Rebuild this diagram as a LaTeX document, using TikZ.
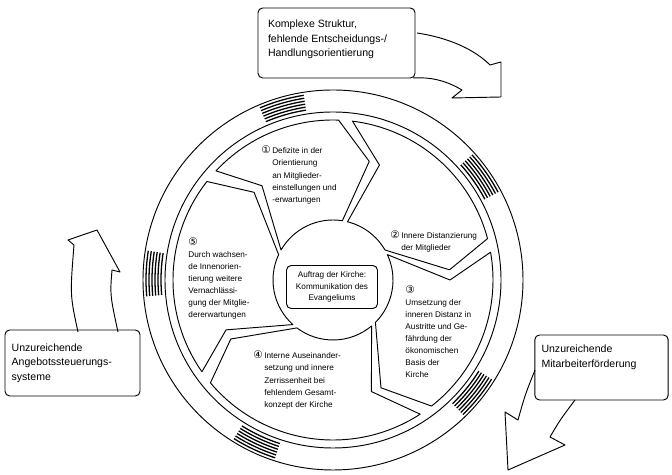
\documentclass[tikz,border=0pt]{standalone}
\usepackage{fontspec}
\setmainfont{Liberation Sans}
\newfontfamily\numfont{DejaVu Sans}
\newcommand{\nr}[1]{{\numfont\fontsize{9}{10}\selectfont #1}}
\begin{document}
\begin{tikzpicture}[x=0.3mm,y=0.3mm,line width=0.8pt,line join=round,
  box/.style={draw,rounded corners=4pt,inner sep=0pt},
  btext/.style={align=left,font=\fontsize{9}{12.5}\selectfont,inner sep=0pt},
  ctext/.style={align=left,font=\fontsize{7}{10.3}\selectfont,inner sep=0pt}]
\useasboundingbox (0,0) rectangle (672,475);

% outer boxes
\node[box,minimum width=47.1mm,minimum height=21mm] (struktur) at (336.5,432) {};
\node[btext,anchor=north west] (strukturtxt) at ([shift={(3mm,-3.6mm)}]struktur.north west)
  {Komplexe Struktur,\\fehlende Entscheidungs-/\\Handlungsorientierung};
\node[box,minimum width=40.5mm,minimum height=19.8mm] (angebot) at (72.5,112) {};
\node[btext,anchor=west] (angebottxt) at ([xshift=2mm]angebot.west)
  {Unzureichende\\Angebotssteuerungs-\\systeme};
\node[box,minimum width=40mm,minimum height=19.5mm] (mitarb) at (601.5,107.5) {};
\node[btext,anchor=north west] (mitarbtxt) at ([shift={(2mm,-3mm)}]mitarb.north west)
  {Unzureichende\\Mitarbeiterförderung};

% block arrows from the boxes
\draw (417,442) .. controls (450,437) and (475,425) .. (490,410) -- (501,413)
  -- (501,378) -- (452,377) -- (462,385) .. controls (445,395) and (430,398) .. (413,397);
\draw (78,143) .. controls (70,180) .. (74,230) -- (68,235) -- (97,245) -- (120,203)
  -- (112,205) .. controls (110,180) .. (118,143);
\draw (535,105) .. controls (525,80) .. (518,55) -- (505,63) -- (508,5) -- (565,30)
  -- (550,38) .. controls (560,55) .. (575,75);

% wheel
\begin{scope}[shift={(333,195)}]
\draw (0,0) circle (190);
\draw (0,0) circle (168);
% tail: outer/apex/apex radius/inner -- head: outer/apex/apex radius/inner
\foreach \to/\ta/\tr/\ti/\ho/\ha/\hr/\hi in {137/127/118/150/88/73/124/81,
    83/68/124/76/15/5/117/30, 10/0/117/25/-52/-66/118/-45,
    -57/-71/118/-50/-140/-150/118/-127, -145/-155/118/-132/-218/-228/118/-205}
  \draw (\to:160) arc[start angle=\to,end angle=\ho,radius=160] -- (\ha:\hr)
    -- (\hi:60) arc[start angle=\hi,end angle=\ti,radius=60] -- (\ta:\tr) -- cycle;
\foreach \h in {99,28,-46,-122,171}
  \foreach \r in {172,175,...,187}
    \draw[line width=1.1pt] (\h+14:\r) arc[start angle=\h+14,end angle=\h,radius=\r];
\end{scope}

% centre
\node[box,minimum width=27.3mm,minimum height=12.9mm] (auftrag) at (332,188) {};
\node[font=\fontsize{7}{10}\selectfont,align=center,inner sep=0pt] (auftragtxt) at (auftrag)
  {Auftrag der Kirche:\\Kommunikation des\\Evangeliums};

% texts of the wheel
\node[ctext,anchor=north west] (defizite) at (261,330)
  {\begin{tabular}{@{}l@{\,}l@{}}\nr{①}&Defizite in der\\&Orientierung\\&an Mitglieder-\\&einstellungen und\\&-erwartungen\end{tabular}};
\node[ctext,anchor=north west] (distanz) at (390,245)
  {\begin{tabular}{@{}l@{\,}l@{}}\nr{②}&Innere Distanzierung\\&der Mitglieder\end{tabular}};
\node[ctext,anchor=north west] (umsetzung) at (405,190)
  {\nr{③}\\Umsetzung der\\inneren Distanz in\\Austritte und Ge-\\fährdung der\\ökonomischen\\Basis der\\Kirche};
\node[ctext,anchor=north west] (intern) at (253,125)
  {\begin{tabular}{@{}l@{\,}l@{}}\nr{④}&Interne Auseinander-\\&setzung und innere\\&Zerrissenheit bei\\&fehlendem Gesamt-\\&konzept der Kirche\end{tabular}};
\node[ctext,anchor=north west] (wachsend) at (188,238)
  {\nr{⑤}\\Durch wachsen-\\de Innenorien-\\tierung weitere\\Vernachlässi-\\gung der Mitglie-\\dererwartungen};
\end{tikzpicture}
\end{document}
